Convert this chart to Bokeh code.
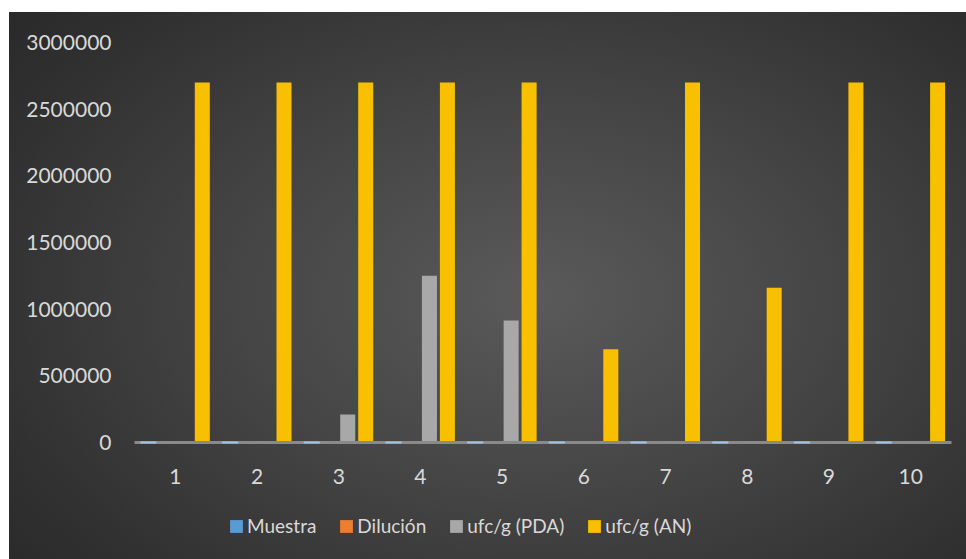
from bokeh.plotting import figure
from bokeh.models import (FactorRange, Range1d, FixedTicker, NumeralTickFormatter,
                          Legend, LegendItem, InlineStyleSheet, Spacer)
from bokeh.layouts import column, row
from bokeh.transform import dodge
from bokeh.embed import file_html
from bokeh.resources import INLINE

samples = ["1", "2", "3", "4", "5", "6", "7", "8", "9", "10"]
muestra = [1, 2, 3, 4, 5, 6, 7, 8, 9, 10]
dilucion = [0.001, 0.001, 0.001, 0.001, 0.001, 0.001, 0.001, 0.001, 0.001, 0.001]
ufc_pda = [0, 0, 210000, 1250000, 915000, 0, 0, 0, 0, 0]
ufc_an = [2700000, 2700000, 2700000, 2700000, 2700000, 700000, 2700000, 1160000, 2700000, 2700000]
y_ticks = [0, 500000, 1000000, 1500000, 2000000, 2500000, 3000000]

series_names = ["Muestra", "Dilución", "ufc/g (PDA)", "ufc/g (AN)"]
colors = ["#5b9bd5", "#ed7d31", "#a8a8a8", "#f8c000"]

FONT = "Lato"
TXT = "#d9d9d9"

p = figure(width=957, height=488, x_range=FactorRange(*samples, range_padding=0),
           y_range=Range1d(0, 3000000), output_backend="svg", toolbar_location=None,
           min_border_left=125, min_border_right=15, min_border_top=30, min_border_bottom=58)
p.border_fill_color = None
p.background_fill_color = None
p.outline_line_color = None
p.grid.grid_line_color = None

data = dict(x=samples, muestra=muestra, dilucion=dilucion, pda=ufc_pda, an=ufc_an)
offsets = [-0.33, -0.11, 0.11, 0.33]
keys = ["muestra", "dilucion", "pda", "an"]
for k, off, c in zip(keys, offsets, colors):
    if k == "muestra":
        r = p.vbar(x=dodge("x", off, range=p.x_range), top=k, width=0.184, bottom=0,
                   source=data, fill_color=c, line_color="#9dc3e6", line_width=2)
        r.level = "overlay"
    else:
        p.vbar(x=dodge("x", off, range=p.x_range), top=k, width=0.184, bottom=0,
               source=data, fill_color=c, line_color=None)

p.yaxis.ticker = FixedTicker(ticks=y_ticks)
p.yaxis.formatter = NumeralTickFormatter(format="0")
p.yaxis.axis_line_color = None
p.yaxis.major_tick_line_color = None
p.yaxis.minor_tick_line_color = None
p.yaxis.major_label_standoff = 17
p.yaxis.major_label_text_font = FONT
p.yaxis.major_label_text_font_size = "21px"
p.yaxis.major_label_text_color = TXT

p.xaxis.axis_line_color = "#8a8a8a"
p.xaxis.axis_line_width = 3
p.xaxis.major_tick_line_color = None
p.xaxis.minor_tick_line_color = None
p.xaxis.major_label_standoff = 20
p.xaxis.major_label_text_font = FONT
p.xaxis.major_label_text_font_size = "21px"
p.xaxis.major_label_text_color = TXT

# legend strip below the chart
lg = figure(width=957, height=59, x_range=Range1d(0, 1), y_range=Range1d(0, 1),
            output_backend="svg", toolbar_location=None,
            min_border_left=0, min_border_right=0, min_border_top=0, min_border_bottom=0)
lg.axis.visible = False
lg.grid.grid_line_color = None
lg.outline_line_color = None
lg.border_fill_color = None
lg.background_fill_color = None
leg_renderers = []
for c in colors:
    leg_renderers.append(lg.vbar(x=[float("nan")], top=[float("nan")], width=0.1,
                                 fill_color=c, line_color=None))

legend = Legend(items=[LegendItem(label=n, renderers=[r]) for n, r in zip(series_names, leg_renderers)],
                orientation="horizontal", location=(94, 22),
                background_fill_alpha=0, border_line_color=None,
                label_text_font=FONT, label_text_font_size="19px", label_text_color=TXT,
                glyph_width=16, glyph_height=16, label_standoff=3, spacing=22,
                padding=0, margin=0)
lg.add_layout(legend, "center")

inner = column(p, lg, spacing=0)
inner.stylesheets = [InlineStyleSheet(css=":host { background: radial-gradient(ellipse 75% 85% at 55% 52%, #5a5a5a 0%, #464646 40%, #303030 80%, #282828 100%); }")]

layout = column(Spacer(height=12), row(Spacer(width=9), inner))
open("out.html", "w").write(file_html(layout, INLINE))
